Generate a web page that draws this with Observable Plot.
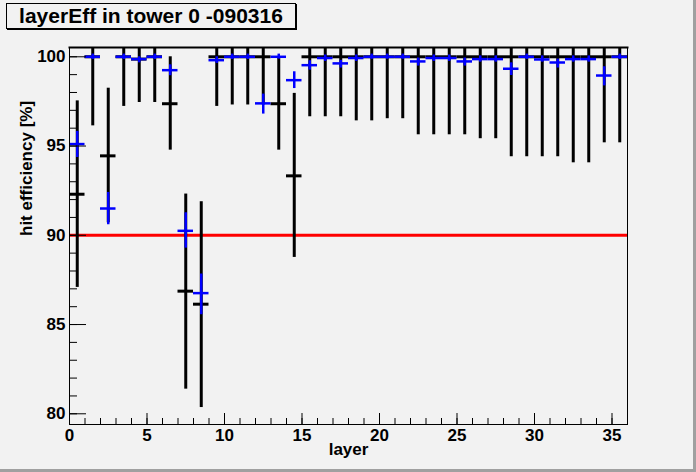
<!DOCTYPE html>
<html>
<head>
<meta charset="utf-8">
<script src="https://cdn.jsdelivr.net/npm/d3@7"></script>
<script src="https://cdn.jsdelivr.net/npm/@observablehq/plot@0.6"></script>
<style>
  html, body { margin: 0; padding: 0; background: #f2f2f2; }
  #wrap { position: relative; width: 696px; height: 472px; background: #f2f2f2;
          box-shadow: inset -3px -3px 0 #a0a0a0; overflow: hidden;
          font-family: "Liberation Sans", Arial, sans-serif; }
  #chart { position: absolute; left: 0; top: 0; }
  #title { position: absolute; left: 6px; top: 3px; width: 290px; height: 26px; box-sizing: border-box;
           border: 1px solid #000; box-shadow: 1px 1px 0 #000; background: #f2f2f2;
           display: flex; align-items: center; justify-content: center;
           font-weight: bold; font-size: 21px; color: #000; white-space: nowrap; }
</style>
</head>
<body>
<div id="wrap">
  <div id="chart"></div>
  <div id="title">layerEff in tower 0 -090316</div>
</div>
<script>
// layer bins (bin i spans [i, i+1])
const layers = [0,1,2,3,4,5,6,7,8,9,10,11,12,13,14,15,16,17,18,19,20,21,22,23,24,25,26,27,28,29,30,31,32,33,34,35];

// black series: efficiency and error-bar ends (upper ends above 100.5 are clipped by the frame)
const blackEff = [92.3,100,94.45,100,99.87,100,97.37,86.87,86.14,100,100,100,100,97.37,93.33,100,100,100,100,100,100,100,100,100,100,100,100,100,100,100,100,100,100,100,100,100];
const blackLo  = [87.08,96.13,90.7,97.22,97.44,97.44,94.77,81.38,80.35,97.22,97.3,97.3,97.3,94.77,88.76,96.64,96.64,96.64,96.41,96.41,96.53,96.53,95.63,95.63,95.63,95.63,95.41,95.41,94.4,94.4,94.4,94.4,94.06,94.06,95.18,95.18];
const blackHi  = [97.53,101,98.24,101,101,101,100,92.31,91.88,101,101,101,101,100,97.95,101,101,101,101,101,101,101,101,101,101,101,101,101,101,101,101,101,101,101,101,101];

// blue series
const blueEff = [95.11,100,91.5,100,99.87,100,99.25,90.25,86.76,99.81,100,100,97.39,100,98.69,99.53,99.93,99.63,99.93,100,100,100,99.74,99.93,99.93,99.74,99.87,99.87,99.33,100,99.85,99.68,99.87,99.87,98.95,100];
const blueLo  = [94.36,99.85,90.59,99.85,99.66,99.85,98.94,89.28,85.55,99.63,99.85,99.85,96.79,99.87,98.22,99.25,99.74,99.37,99.74,99.86,99.86,99.86,99.48,99.74,99.74,99.48,99.7,99.7,98.95,99.85,99.7,99.37,99.7,99.7,98.37,99.85];
const blueHi  = [95.82,100.15,92.4,100.15,100,100.15,99.55,91.26,87.83,100,100.15,100.15,97.91,100.15,99.16,99.78,100.1,99.8,100.1,100.15,100.15,100.15,99.93,100.1,100.1,99.93,100.05,100.05,99.66,100.15,100.05,99.87,100.05,100.05,99.44,100.15];

const threshold = [90];
const xTicks = [0,5,10,15,20,25,30,35];
const yTicks = [80,85,90,95,100];
const xMinor = d3.range(0, 37);
const yMinor = d3.range(80, 101);

const data = layers.map((l, i) => ({
  layer: l, right: l + 1, center: l + 0.5,
  eff: blackEff[i], lo: blackLo[i], hi: blackHi[i],
  beff: blueEff[i], blo: blueLo[i], bhi: blueHi[i]
}));

const font = "'Liberation Sans', Arial, sans-serif";

const chart = Plot.plot({
  width: 696,
  height: 472,
  marginLeft: 69,
  marginRight: 69,
  marginTop: 47,
  marginBottom: 48,
  style: { background: "transparent", fontFamily: font, color: "#000", overflow: "visible" },
  x: { domain: [0, 36] },
  y: { domain: [79.4, 100.52] },
  marks: [
    Plot.ruleY(threshold, { stroke: "#ff0000", strokeWidth: 3 }),
    Plot.ruleX(data, { x: "center", y1: "lo", y2: "hi", stroke: "#000", strokeWidth: 3, clip: true }),
    Plot.ruleY(data, { y: "eff", x1: "layer", x2: "right", stroke: "#000", strokeWidth: 3, clip: true }),
    Plot.ruleX(data, { x: "center", y1: "blo", y2: "bhi", stroke: "#0000ff", strokeWidth: 2.5, clip: true }),
    Plot.ruleY(data, { y: "beff", x1: "layer", x2: "right", stroke: "#0000ff", strokeWidth: 2.5, clip: true }),
    Plot.axisX(xMinor, { tickSize: -6, text: null, label: null, stroke: "#000" }),
    Plot.axisX(xTicks, { tickSize: -11, tickPadding: 15, label: null, fontSize: 17, fontWeight: "bold", stroke: "#000", fill: "#000" }),
    Plot.axisY(yMinor, { tickSize: -8, text: null, label: null, stroke: "#000" }),
    Plot.axisY(yTicks, { tickSize: -17, tickPadding: 21, label: null, fontSize: 17, fontWeight: "bold", stroke: "#000", fill: "#000" }),
    Plot.frame({ stroke: "#000", strokeWidth: 1 }),
    Plot.frame({ anchor: "top", stroke: "#000", strokeWidth: 2 }),
    Plot.text(["hit efficiency [%]"], { frameAnchor: "left", rotate: -90, dx: -43, fontSize: 17, fontWeight: "bold", fill: "#000" }),
    Plot.text(["layer"], { frameAnchor: "bottom", dy: 30, fontSize: 17, fontWeight: "bold", fill: "#000" })
  ]
});
document.getElementById("chart").appendChild(chart);
</script>
</body>
</html>
